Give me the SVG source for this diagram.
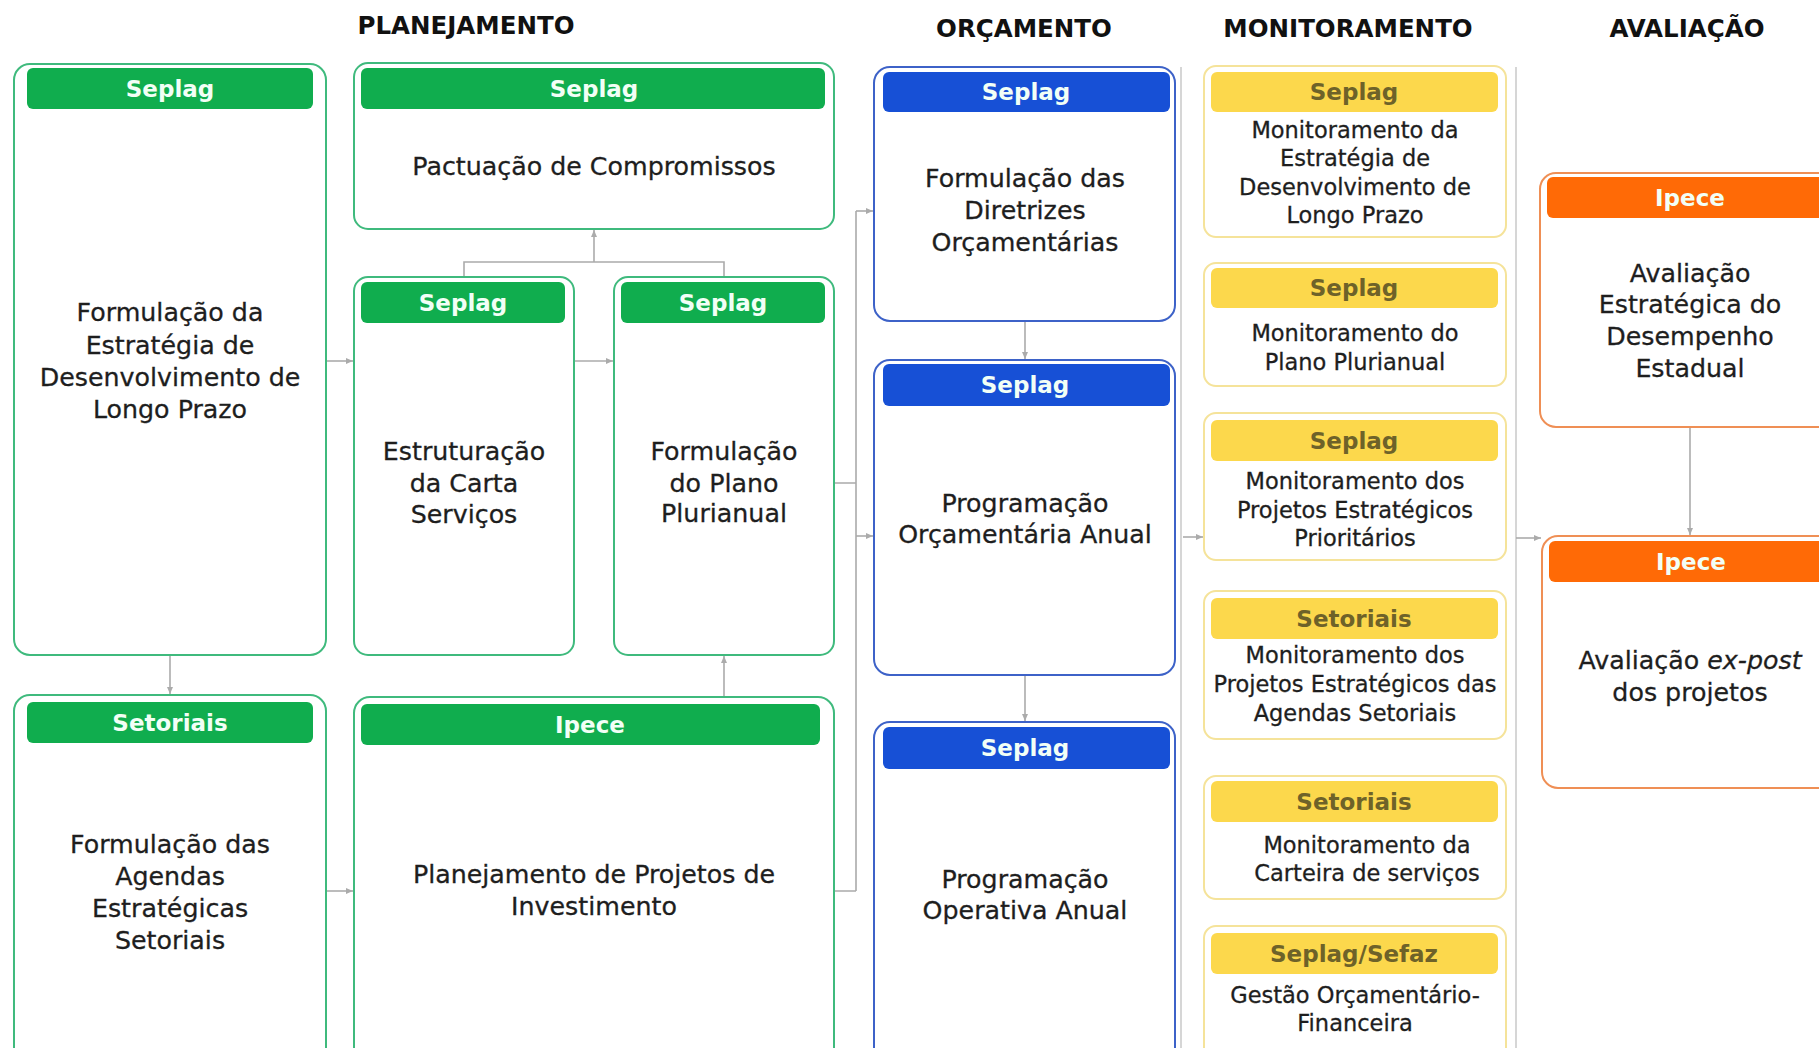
<svg xmlns="http://www.w3.org/2000/svg" width="1819" height="1048" viewBox="0 0 1819 1048">
<defs>
<style>
.bg{fill:#ffffff}
.title{font-family:"DejaVu Sans",sans-serif;font-weight:bold;font-size:24.5px;fill:#111;text-anchor:middle}
.g{fill:#fff;stroke:#3fba7d;stroke-width:2}
.b{fill:#fff;stroke:#3d62c8;stroke-width:2}
.y{fill:#fff;stroke:#f5e39a;stroke-width:2}
.o{fill:#fff;stroke:#ef8f55;stroke-width:2}
.gh{fill:#10ad4e}
.bh{fill:#1750d6}
.yh{fill:#fcd84c}
.oh{fill:#ff6a06}
.ht{font-family:"DejaVu Sans",sans-serif;font-weight:bold;font-size:23px;fill:#f2fff6;text-anchor:middle}
.hty{font-family:"DejaVu Sans",sans-serif;font-weight:bold;font-size:23px;fill:#6e6229;text-anchor:middle}
.t{font-family:"DejaVu Sans",sans-serif;font-size:25.3px;fill:#1e1e1e;stroke:#1e1e1e;stroke-width:0.3;text-anchor:middle}
.ts{font-family:"DejaVu Sans",sans-serif;font-size:22.5px;fill:#1e1e1e;stroke:#1e1e1e;stroke-width:0.3;text-anchor:middle}
.c{fill:none;stroke:#ababab;stroke-width:1.6}
.div{fill:none;stroke:#d6d6d6;stroke-width:2}
</style>
<marker id="ah" markerWidth="8" markerHeight="8" refX="7" refY="4" orient="auto" markerUnits="userSpaceOnUse">
<path d="M0,1 L7,4 L0,7 z" fill="#ababab"/>
</marker>
</defs>
<rect class="bg" x="0" y="0" width="1819" height="1048"/>

<g id="titles">
<text class="title" x="466" y="34">PLANEJAMENTO</text>
<text class="title" x="1024" y="37">ORÇAMENTO</text>
<text class="title" x="1348" y="37">MONITORAMENTO</text>
<text class="title" x="1687" y="37">AVALIAÇÃO</text>
</g>

<g id="dividers">
<line class="div" x1="1181" y1="67" x2="1181" y2="1048"/>
<line class="div" x1="1516" y1="67" x2="1516" y2="1048"/>
</g>

<g id="connectors">
<path class="c" d="M326,361 H353" marker-end="url(#ah)"/>
<path class="c" d="M574,361 H613" marker-end="url(#ah)"/>
<path class="c" d="M464,277 V262 H724 V277"/>
<path class="c" d="M594,262 V230" marker-end="url(#ah)"/>
<path class="c" d="M170,655 V694" marker-end="url(#ah)"/>
<path class="c" d="M326,891 H353" marker-end="url(#ah)"/>
<path class="c" d="M724,697 V656" marker-end="url(#ah)"/>
<path class="c" d="M834,483 H856 M834,891 H856 M856,211 V891"/>
<path class="c" d="M856,211 H873" marker-end="url(#ah)"/>
<path class="c" d="M856,536 H873" marker-end="url(#ah)"/>
<path class="c" d="M1025,321 V359" marker-end="url(#ah)"/>
<path class="c" d="M1025,675 V721" marker-end="url(#ah)"/>
<path class="c" d="M1183,537 H1203" marker-end="url(#ah)"/>
<path class="c" d="M1516,538 H1541" marker-end="url(#ah)"/>
<path class="c" d="M1690,427 V535" marker-end="url(#ah)"/>
</g>

<g id="n-estrategia">
<rect class="g" x="14" y="64" width="312" height="591" rx="16"/>
<rect class="gh" x="27" y="68" width="286" height="41" rx="6"/>
<text class="ht" x="170" y="97">Seplag</text>
<text class="t" x="170" y="321">Formulação da</text>
<text class="t" x="170" y="354">Estratégia de</text>
<text class="t" x="170" y="386">Desenvolvimento de</text>
<text class="t" x="170" y="418">Longo Prazo</text>
</g>

<g id="n-pactuacao">
<rect class="g" x="354" y="63" width="480" height="166" rx="14"/>
<rect class="gh" x="361" y="68" width="464" height="41" rx="6"/>
<text class="ht" x="594" y="97">Seplag</text>
<text class="t" x="594" y="175">Pactuação de Compromissos</text>
</g>

<g id="n-estruturacao">
<rect class="g" x="354" y="277" width="220" height="378" rx="14"/>
<rect class="gh" x="361" y="282" width="204" height="41" rx="6"/>
<text class="ht" x="463" y="311">Seplag</text>
<text class="t" x="464" y="460">Estruturação</text>
<text class="t" x="464" y="492">da Carta</text>
<text class="t" x="464" y="523">Serviços</text>
</g>

<g id="n-ppa">
<rect class="g" x="614" y="277" width="220" height="378" rx="14"/>
<rect class="gh" x="621" y="282" width="204" height="41" rx="6"/>
<text class="ht" x="723" y="311">Seplag</text>
<text class="t" x="724" y="460">Formulação</text>
<text class="t" x="724" y="492">do Plano</text>
<text class="t" x="724" y="522">Plurianual</text>
</g>

<g id="n-agendas">
<rect class="g" x="14" y="695" width="312" height="380" rx="16"/>
<rect class="gh" x="27" y="702" width="286" height="41" rx="6"/>
<text class="ht" x="170" y="731">Setoriais</text>
<text class="t" x="170" y="853">Formulação das</text>
<text class="t" x="170" y="885">Agendas</text>
<text class="t" x="170" y="917">Estratégicas</text>
<text class="t" x="170" y="949">Setoriais</text>
</g>

<g id="n-projetos">
<rect class="g" x="354" y="697" width="480" height="380" rx="16"/>
<rect class="gh" x="361" y="704" width="459" height="41" rx="6"/>
<text class="ht" x="590" y="733">Ipece</text>
<text class="t" x="594" y="883">Planejamento de Projetos de</text>
<text class="t" x="594" y="915">Investimento</text>
</g>

<g id="n-diretrizes">
<rect class="b" x="874" y="67" width="301" height="254" rx="16"/>
<rect class="bh" x="883" y="72" width="287" height="40" rx="6"/>
<text class="ht" x="1026" y="100">Seplag</text>
<text class="t" x="1025" y="187">Formulação das</text>
<text class="t" x="1025" y="219">Diretrizes</text>
<text class="t" x="1025" y="251">Orçamentárias</text>
</g>

<g id="n-loa">
<rect class="b" x="874" y="360" width="301" height="315" rx="16"/>
<rect class="bh" x="883" y="364" width="287" height="42" rx="6"/>
<text class="ht" x="1025" y="393">Seplag</text>
<text class="t" x="1025" y="512">Programação</text>
<text class="t" x="1025" y="543">Orçamentária Anual</text>
</g>

<g id="n-poa">
<rect class="b" x="874" y="722" width="301" height="360" rx="16"/>
<rect class="bh" x="883" y="727" width="287" height="42" rx="6"/>
<text class="ht" x="1025" y="756">Seplag</text>
<text class="t" x="1025" y="888">Programação</text>
<text class="t" x="1025" y="919">Operativa Anual</text>
</g>

<g id="m-estrategia">
<rect class="y" x="1204" y="66" width="302" height="171" rx="12"/>
<rect class="yh" x="1211" y="72" width="287" height="40" rx="6"/>
<text class="hty" x="1354" y="100">Seplag</text>
<text class="ts" x="1355" y="138">Monitoramento da</text>
<text class="ts" x="1355" y="166">Estratégia de</text>
<text class="ts" x="1355" y="195">Desenvolvimento de</text>
<text class="ts" x="1355" y="223">Longo Prazo</text>
</g>

<g id="m-ppa">
<rect class="y" x="1204" y="263" width="302" height="123" rx="12"/>
<rect class="yh" x="1211" y="268" width="287" height="40" rx="6"/>
<text class="hty" x="1354" y="296">Seplag</text>
<text class="ts" x="1355" y="341">Monitoramento do</text>
<text class="ts" x="1355" y="370">Plano Plurianual</text>
</g>

<g id="m-prioritarios">
<rect class="y" x="1204" y="413" width="302" height="147" rx="12"/>
<rect class="yh" x="1211" y="420" width="287" height="41" rx="6"/>
<text class="hty" x="1354" y="449">Seplag</text>
<text class="ts" x="1355" y="489">Monitoramento dos</text>
<text class="ts" x="1355" y="518">Projetos Estratégicos</text>
<text class="ts" x="1355" y="546">Prioritários</text>
</g>

<g id="m-agendas">
<rect class="y" x="1204" y="591" width="302" height="148" rx="12"/>
<rect class="yh" x="1211" y="598" width="287" height="41" rx="6"/>
<text class="hty" x="1354" y="627">Setoriais</text>
<text class="ts" x="1355" y="663">Monitoramento dos</text>
<text class="ts" x="1355" y="692">Projetos Estratégicos das</text>
<text class="ts" x="1355" y="721">Agendas Setoriais</text>
</g>

<g id="m-servicos">
<rect class="y" x="1204" y="776" width="302" height="123" rx="12"/>
<rect class="yh" x="1211" y="781" width="287" height="41" rx="6"/>
<text class="hty" x="1354" y="810">Setoriais</text>
<text class="ts" x="1367" y="853">Monitoramento da</text>
<text class="ts" x="1367" y="881">Carteira de serviços</text>
</g>

<g id="m-financeira">
<rect class="y" x="1204" y="926" width="302" height="140" rx="12"/>
<rect class="yh" x="1211" y="933" width="287" height="41" rx="6"/>
<text class="hty" x="1354" y="962">Seplag/Sefaz</text>
<text class="ts" x="1355" y="1003">Gestão Orçamentário-</text>
<text class="ts" x="1355" y="1031">Financeira</text>
</g>

<g id="a-desempenho">
<rect class="o" x="1540" y="173" width="300" height="254" rx="16"/>
<rect class="oh" x="1547" y="177" width="286" height="41" rx="6"/>
<text class="ht" x="1690" y="206">Ipece</text>
<text class="t" x="1690" y="282">Avaliação</text>
<text class="t" x="1690" y="313">Estratégica do</text>
<text class="t" x="1690" y="345">Desempenho</text>
<text class="t" x="1690" y="377">Estadual</text>
</g>

<g id="a-expost">
<rect class="o" x="1542" y="536" width="298" height="252" rx="16"/>
<rect class="oh" x="1549" y="541" width="284" height="41" rx="6"/>
<text class="ht" x="1691" y="570">Ipece</text>
<text class="t" x="1690" y="669">Avaliação <tspan font-style="italic">ex-post</tspan></text>
<text class="t" x="1690" y="701">dos projetos</text>
</g>
</svg>
